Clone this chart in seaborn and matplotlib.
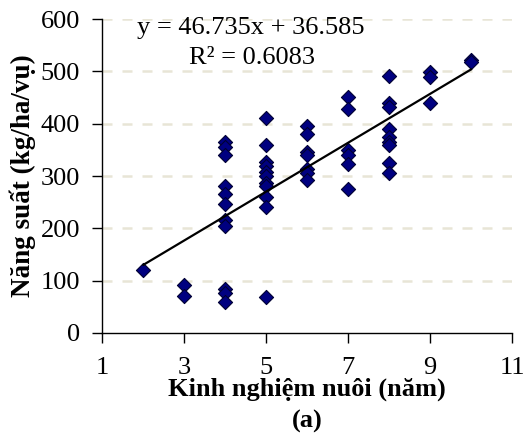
import numpy as np
import pandas as pd
import seaborn as sns
import matplotlib
matplotlib.use("Agg")
import matplotlib.pyplot as plt

# Data
exp_years = [2,
             3, 3,
             4, 4, 4, 4, 4, 4, 4, 4, 4, 4, 4,
             5, 5, 5, 5, 5, 5, 5, 5, 5, 5, 5,
             6, 6, 6, 6, 6, 6, 6,
             7, 7, 7, 7, 7, 7,
             8, 8, 8, 8, 8, 8, 8, 8, 8,
             9, 9, 9,
             10, 10]
yield_vals = [120,
              92, 71,
              365, 355, 340, 280, 266, 247, 216, 205, 84, 76, 59,
              411, 359, 327, 320, 308, 300, 287, 280, 260, 241, 69,
              396, 380, 346, 340, 314, 306, 293,
              451, 428, 350, 340, 323, 276,
              491, 439, 432, 390, 375, 365, 359, 325, 306,
              499, 490, 440,
              522, 518]
slope = 46.735
intercept = 36.585
eq_text = "y = 46.735x + 36.585"
r2_text = "R² = 0.6083"
x_ticks = [1, 3, 5, 7, 9, 11]
y_ticks = [0, 100, 200, 300, 400, 500, 600]

df = pd.DataFrame({"x": exp_years, "y": yield_vals})

sns.set_theme(style="white")
plt.rcParams['font.family'] = ['Liberation Serif', 'DejaVu Serif']
plt.rcParams['text.color'] = 'black'
plt.rcParams['axes.labelcolor'] = 'black'

fig = plt.figure(figsize=(5.27, 4.33), dpi=100)
ax = fig.add_axes([0.194, 0.231, 0.778, 0.725])

for yv in y_ticks[1:]:
    ax.axhline(yv, color="#e8e5d6", lw=1.8, ls=(0, (4, 4)), zorder=0)

sns.scatterplot(data=df, x="x", y="y", ax=ax, marker="D", s=52,
                color="#000080", edgecolor="#000033", linewidth=0.8, zorder=3)

xl = np.array([min(exp_years), max(exp_years)])
line_df = pd.DataFrame({"x": xl, "y": slope * xl + intercept})
sns.lineplot(data=line_df, x="x", y="y", ax=ax, color="black", lw=1.6, zorder=4)

ax.set_xlim(1, 11)
ax.set_ylim(0, 600)
ax.set_xticks(x_ticks)
ax.set_yticks(y_ticks)
ax.tick_params(axis="both", direction="out", length=7, width=1, labelsize=19,
               colors="black", bottom=True, left=True)
ax.tick_params(axis="x", pad=10)
ax.tick_params(axis="y", pad=9)
for s in ["top", "right"]:
    ax.spines[s].set_visible(False)
for s in ["left", "bottom"]:
    ax.spines[s].set_color("black")
    ax.spines[s].set_linewidth(1)

ax.set_xlabel("Kinh nghiệm nuôi (năm)\n(a)", fontsize=19, fontweight="bold",
              labelpad=-1, linespacing=1.5)
ax.set_ylabel("Năng suất (kg/ha/vụ)", fontsize=19.5, fontweight="bold", labelpad=3)

ax.text(0.361, 0.972, eq_text, transform=ax.transAxes, ha="center", va="center",
        fontsize=19)
ax.text(0.366, 0.875, r2_text, transform=ax.transAxes, ha="center", va="center",
        fontsize=19)

fig.savefig("out.png", dpi=100)
